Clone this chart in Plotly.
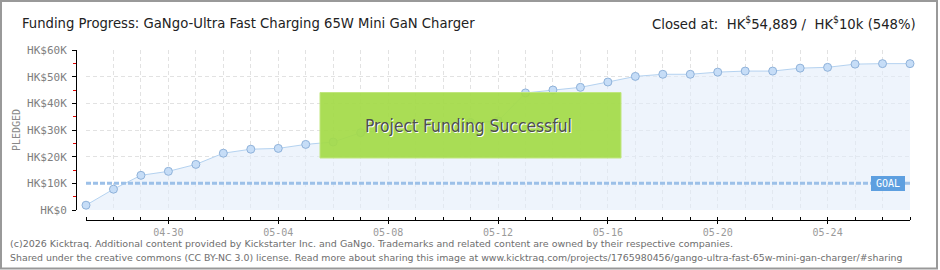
import plotly.graph_objects as go

# ---------------- data ----------------
dates = ["2026-04-27", "2026-04-28", "2026-04-29", "2026-04-30", "2026-05-01", "2026-05-02",
         "2026-05-03", "2026-05-04", "2026-05-05", "2026-05-06", "2026-05-07", "2026-05-08",
         "2026-05-09", "2026-05-10", "2026-05-11", "2026-05-12", "2026-05-13", "2026-05-14",
         "2026-05-15", "2026-05-16", "2026-05-17", "2026-05-18", "2026-05-19", "2026-05-20",
         "2026-05-21", "2026-05-22", "2026-05-23", "2026-05-24", "2026-05-25", "2026-05-26",
         "2026-05-27"]
pledged = [1800, 7800, 13000, 14500, 17100, 21300, 22800, 23100, 24600, 25500, 29000,
           30200, 31200, 32000, 32800, 33400, 43900, 45000, 46000, 48000, 50100, 50900,
           50900, 51700, 52100, 52100, 53200, 53500, 54700, 54889, 54889]
x_tick_text = ["", "", "", "04-30", "", "", "", "05-04", "", "", "", "05-08", "", "", "",
               "05-12", "", "", "", "05-16", "", "", "", "05-20", "", "", "", "05-24", "", "", ""]
y_tick_vals = [0, 10000, 20000, 30000, 40000, 50000, 60000]
y_tick_text = ["HK$0", "HK$10K", "HK$20K", "HK$30K", "HK$40K", "HK$50K", "HK$60K"]
goal = 10000

title_text = "Funding Progress: GaNgo-Ultra Fast Charging 65W Mini GaN Charger"
closed_text = "Closed at:  HK<sup>$</sup>54,889 /  HK<sup>$</sup>10k (548%)"
banner_text = "Project Funding Successful"
footer1 = ("(c)2026 Kicktraq. Additional content provided by Kickstarter Inc. and GaNgo. "
           "Trademarks and related content are owned by their respective companies.")
footer2 = ("Shared under the creative commons (CC BY-NC 3.0) license. Read more about sharing "
           "this image at www.kicktraq.com/projects/1765980456/gango-ultra-fast-65w-mini-gan-charger/#sharing")

# ---------------- layout geometry ----------------
W, H = 940, 270
L, R, T, B = 76, 30, 50, 50
PW, PH = W - L - R, H - T - B


def px(xp):
    return (xp - L) / PW


def py(yp):
    return (H - B - yp) / PH


MONO = "DejaVu Sans Mono"
NARROW = "DejaVu Sans Condensed, Roboto, sans-serif"

fig = go.Figure()
fig.add_trace(go.Scatter(
    x=dates, y=pledged, mode="lines+markers",
    line=dict(color="#b4d2f0", width=1),
    fill="tozeroy", fillcolor="rgba(226,237,250,0.6)",
    marker=dict(size=8, color="#c6ddf7", line=dict(color="#8fb2da", width=1)),
    cliponaxis=False, hoverinfo="skip", showlegend=False,
))

fig.update_layout(
    width=W, height=H, margin=dict(l=L, r=R, t=T, b=B),
    paper_bgcolor="white", plot_bgcolor="white",
    xaxis=dict(
        domain=[10 / PW, 1], range=[dates[0], dates[-1]],
        anchor="free", position=0,
        tickmode="array", tickvals=dates, ticktext=x_tick_text,
        showline=True, linecolor="black", linewidth=1,
        ticks="outside", ticklen=3, tickcolor="black", tickwidth=1,
        minor=dict(ticks="inside", ticklen=3, tickcolor="black", tickmode="array", tickvals=dates,
                   showgrid=False),
        showgrid=True, gridcolor="#e2e2e2", griddash="4px,3px", gridwidth=1,
        tickfont=dict(family=MONO, size=10, color="#9a9a9a"),
        zeroline=False,
    ),
    yaxis=dict(
        domain=[10 / PH, 1], range=[0, 60000],
        anchor="free", position=0,
        tickmode="array", tickvals=y_tick_vals, ticktext=y_tick_text,
        showline=True, linecolor="black", linewidth=1,
        ticks="outside", ticklen=4, tickcolor="black", tickwidth=1,
        minor=dict(ticks="outside", ticklen=3, tickcolor="#e00000", dtick=5000, tick0=5000,
                   showgrid=False),
        showgrid=True, gridcolor="#e2e2e2", griddash="4px,3px", gridwidth=1,
        tickfont=dict(family=MONO, size=11, color="#7f7f7f"),
        ticklabelstandoff=3,
        zeroline=False,
    ),
)


def note(xp, yp, text, font, xanchor="center", **kw):
    fig.add_annotation(xref="paper", yref="paper", x=px(xp), y=py(yp), text=text,
                       xanchor=xanchor, yanchor="middle", showarrow=False, font=font, **kw)


# goal line
fig.add_shape(type="line", xref="x", yref="y", x0=dates[0], x1=dates[-1], y0=goal, y1=goal,
              line=dict(color="#9cc0e8", width=3, dash="5px,2px"))
note(888, 183, "GOAL", dict(family=MONO, size=10, color="white"),
     bgcolor="#5d9fe0", bordercolor="#5d9fe0", borderpad=1, width=30, height=11)

# success banner
fig.add_shape(type="rect", xref="paper", yref="paper",
              x0=px(320), x1=px(621), y0=py(158), y1=py(92.5),
              fillcolor="rgba(164,218,72,0.93)", line=dict(color="#c0e67e", width=1))
note(468, 126, banner_text,
     dict(family=NARROW, size=17.3, color="#4e4e4e", shadow="1px 1px 0px white"))

# title & status
note(20, 23, title_text, dict(family=NARROW, size=14.7, color="#222"), xanchor="left")
note(918, 23, closed_text, dict(family=NARROW, size=14.7, color="#222"), xanchor="right")

# y-axis title
note(16, 130, "PLEDGED", dict(family=MONO, size=10, color="#888"), textangle=-90)

# footer
note(8, 243, footer1, dict(family="DejaVu Sans", size=9.5, color="#6e6e6e"), xanchor="left")
note(8, 257, footer2, dict(family="DejaVu Sans", size=9.4, color="#6e6e6e"), xanchor="left")

# outer frame
fig.add_shape(type="rect", xref="paper", yref="paper",
              x0=px(1), x1=px(937), y0=py(268.5), y1=py(1),
              line=dict(color="#999", width=2), fillcolor="rgba(0,0,0,0)", layer="above")

fig.write_html("out.html")
